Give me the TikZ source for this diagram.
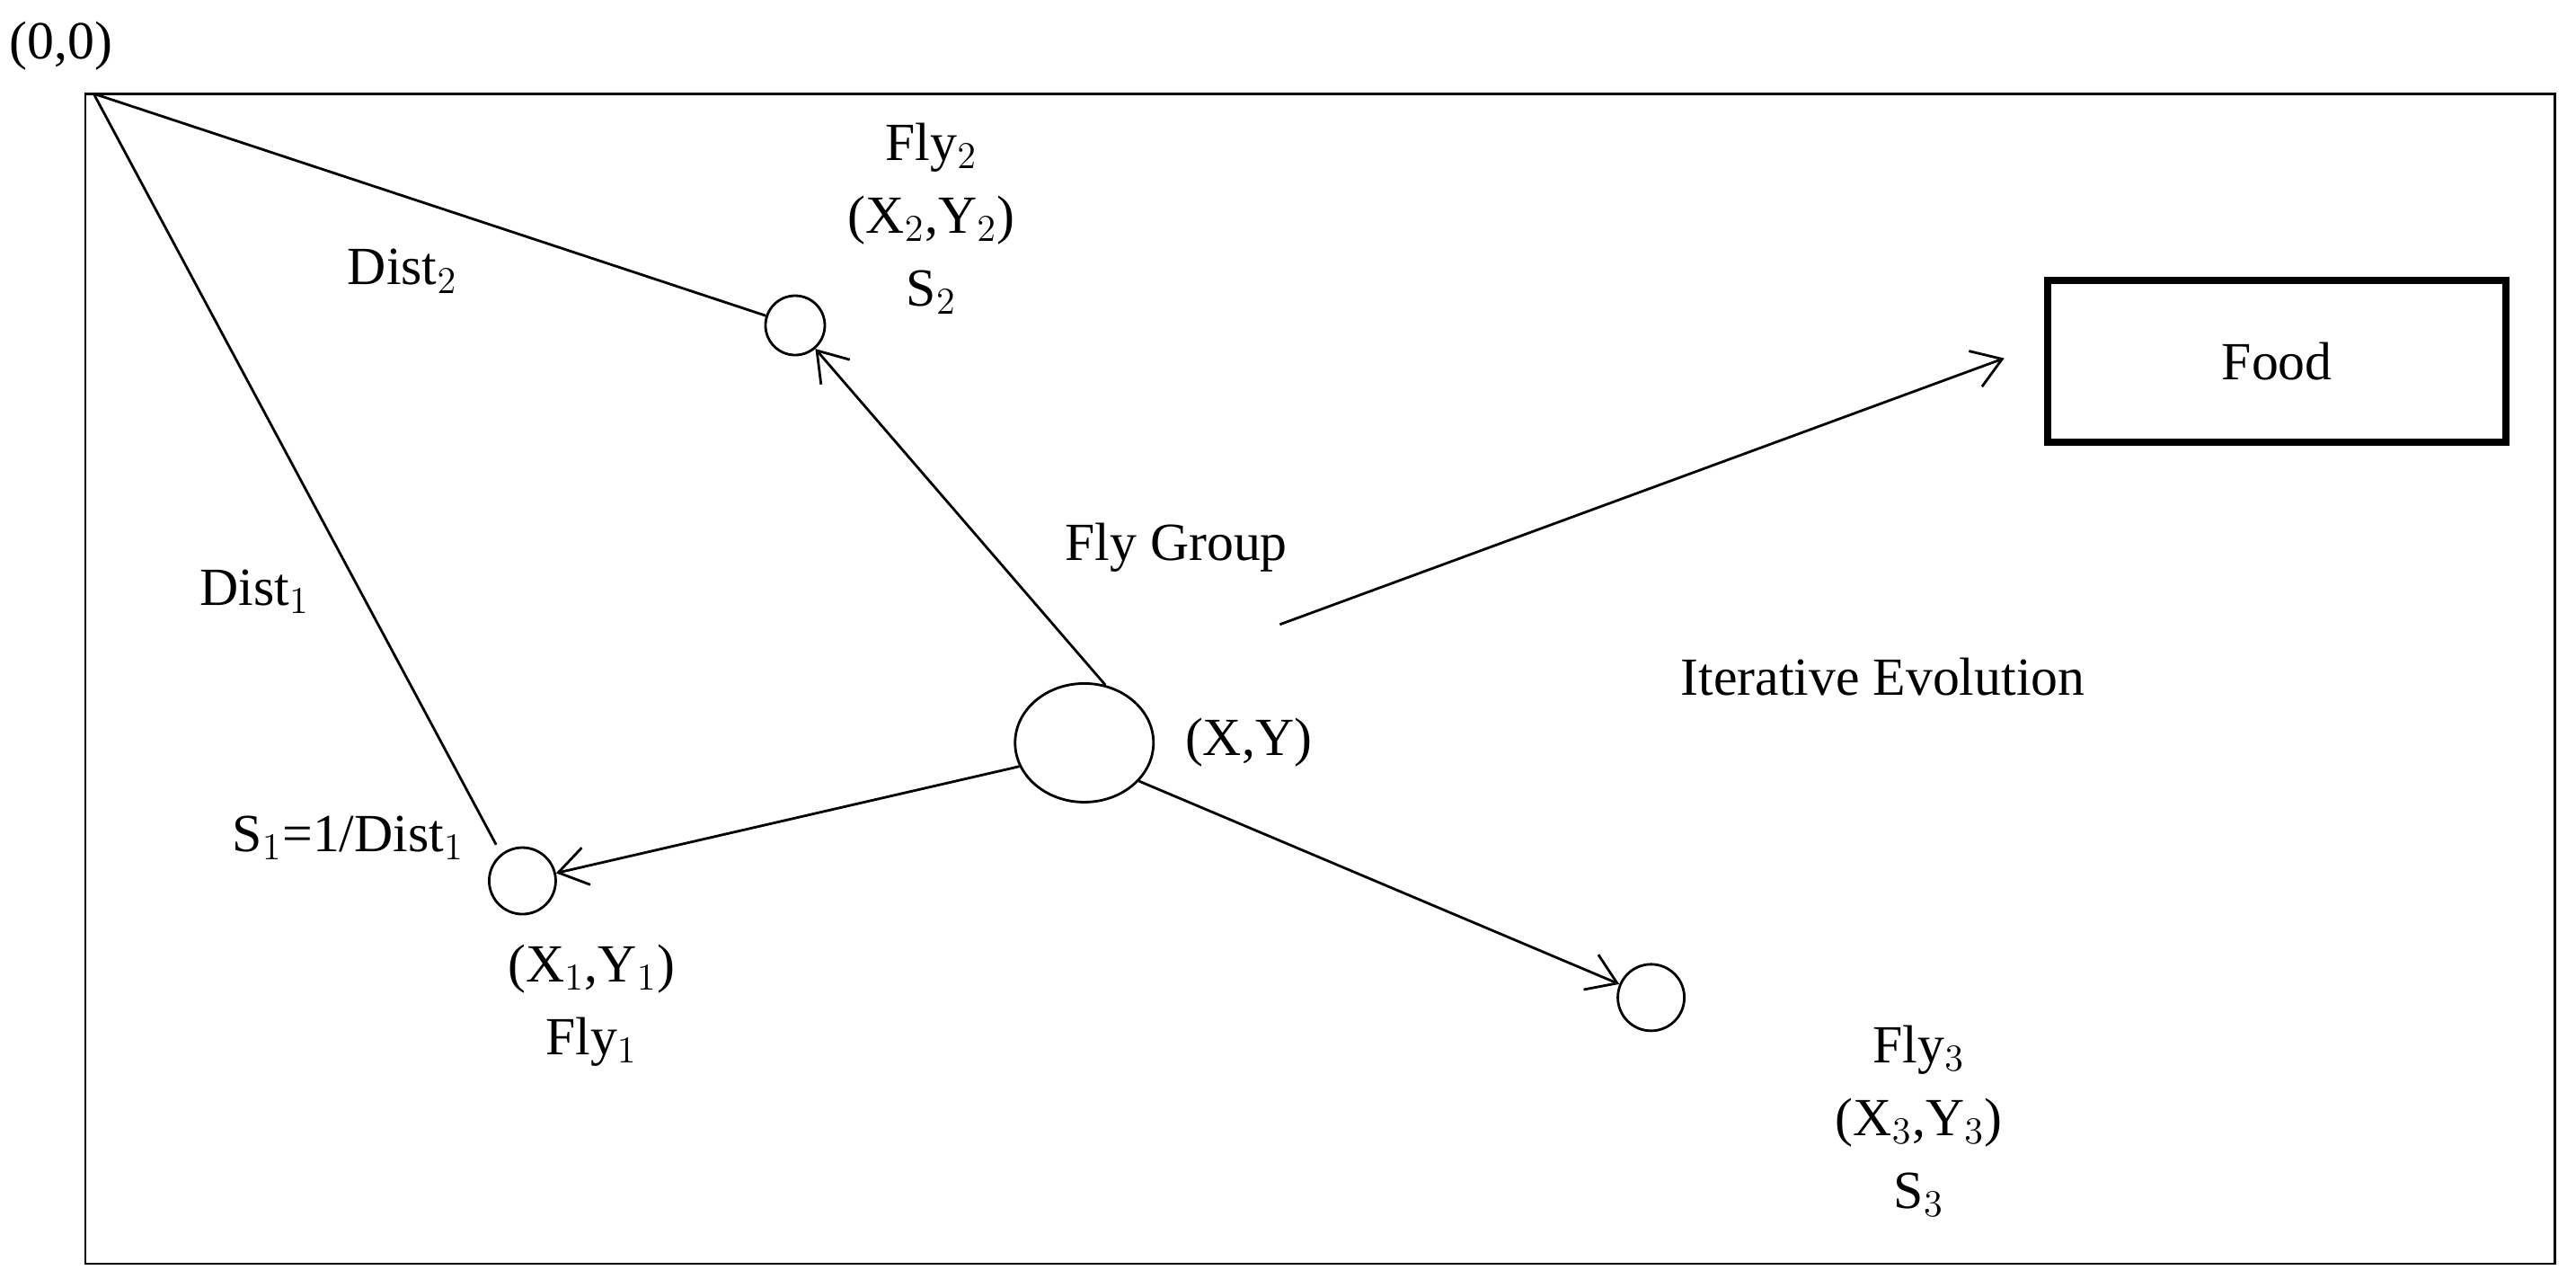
\documentclass[tikz,border=0pt]{standalone}
\usepackage{fontspec}
\setmainfont{Liberation Serif}
\usetikzlibrary{arrows.meta,shapes.geometric}
\begin{document}
\begin{tikzpicture}[x=0.018285cm,y=-0.018285cm,line width=0.8pt,
  txt/.style={font=\fontsize{17}{21}\selectfont,inner sep=0pt,align=center},
  fly/.style={circle,draw,minimum size=0.66cm,inner sep=0pt},
  arr/.style={-{Straight Barb[length=9pt,width=12pt]}}]
\useasboundingbox (0,0) rectangle (1568,778);
\draw (52,57) rectangle (1555,769);
\coordinate (o) at (57,57);
\node[txt] (t00) at (37,28) {(0,0)};
\node[fly] (f2) at (484,198) {};
\node[fly,minimum size=0.74cm] (f1) at (318,536) {};
\node[fly,minimum size=0.74cm] (f3) at (1005,607) {};
\node[ellipse,draw,minimum width=1.54cm,minimum height=1.32cm,inner sep=0pt] (g) at (660,452) {};
\node[draw,line width=2.2pt,minimum width=5.1cm,minimum height=1.8cm] (food) at (1386,220) {};
\node[txt] at (food) {Food};
\draw (o) -- (f2);
\draw (o) -- (302,514);
\draw[arr] (g.70) -- (f2);
\draw[arr] (g.200) -- (f1);
\draw[arr] (g.-35) -- (f3);
\coordinate (a1) at (779,380);
\draw[arr] (a1) -- (1220,218);
\node[txt] at (567,133) {Fly$_2$\\[2pt](X$_2$,Y$_2$)\\[2pt]S$_2$};
\node[txt] at (245,165) {Dist$_2$};
\node[txt] at (155,360) {Dist$_1$};
\node[txt] at (212,510) {S$_1$=1/Dist$_1$};
\node[txt] at (360,612) {(X$_1$,Y$_1$)\\[2pt]Fly$_1$};
\node[txt] at (716,333) {Fly Group};
\node[txt] at (760,452) {(X,Y)};
\node[txt] at (1146,412) {Iterative Evolution};
\node[txt] at (1168,682) {Fly$_3$\\[2pt](X$_3$,Y$_3$)\\[2pt]S$_3$};
\end{tikzpicture}
\end{document}
